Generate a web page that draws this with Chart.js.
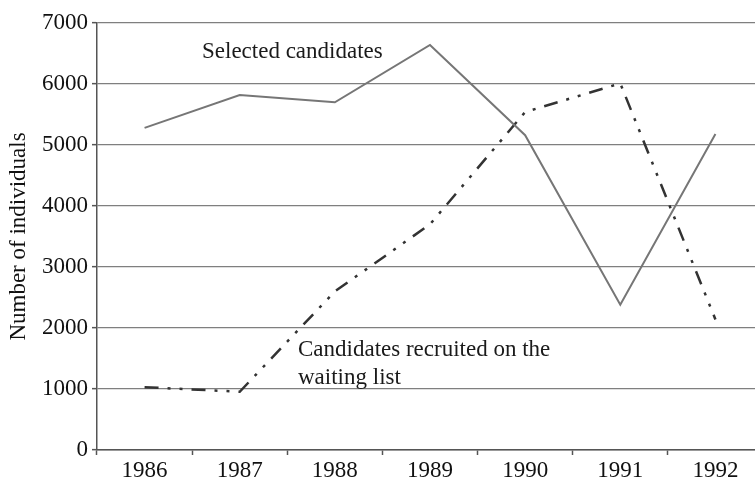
<!DOCTYPE html>
<html>
<head>
<meta charset="utf-8">
<script src="https://cdn.jsdelivr.net/npm/chart.js@4/dist/chart.umd.min.js"></script>
<style>
  html, body { margin: 0; padding: 0; background: #fff; overflow: hidden; }
  #wrap { width: 755px; height: 478px; overflow: hidden; }
  #box { width: 763px; height: 478px; }
</style>
</head>
<body>
<div id="wrap"><div id="box"><canvas id="chart"></canvas></div></div>
<script>
const years = ['1986', '1987', '1988', '1989', '1990', '1991', '1992'];
const selectedCandidates = [5280, 5820, 5700, 6640, 5160, 2380, 5180];
const waitingList = [1030, 955, 2600, 3700, 5540, 6010, 2140];
const yTicks = [0, 1000, 2000, 3000, 4000, 5000, 6000, 7000];

const serif = "'Liberation Serif', 'Times New Roman', serif";
const axisColor = '#555555';

// text labels placed next to the lines
const lineLabels = {
    id: 'lineLabels',
    afterDatasetsDraw(chart) {
        const ctx = chart.ctx;
        ctx.save();
        ctx.font = '23px ' + serif;
        ctx.fillStyle = '#1a1a1a';
        ctx.textBaseline = 'alphabetic';
        ctx.textAlign = 'left';
        ctx.fillText('Selected candidates', 202, 58);
        ctx.fillText('Candidates recruited on the', 298, 356);
        ctx.fillText('waiting list', 298, 384);
        ctx.restore();
    }
};

new Chart(document.getElementById('chart').getContext('2d'), {
    type: 'line',
    data: {
        labels: years,
        datasets: [{
            label: 'Selected candidates',
            data: selectedCandidates,
            borderColor: '#767676',
            borderWidth: 2,
            pointRadius: 0,
            tension: 0,
            fill: false
        }, {
            label: 'Candidates recruited on the waiting list',
            data: waitingList,
            borderColor: '#333333',
            borderWidth: 2.5,
            borderDash: [14, 9, 3, 9, 3, 9],
            borderCapStyle: 'butt',
            pointRadius: 0,
            tension: 0,
            fill: false
        }]
    },
    options: {
        responsive: true,
        maintainAspectRatio: false,
        animation: false,
        layout: {
            padding: { top: 23, left: 0, right: 0, bottom: 0 }
        },
        plugins: {
            legend: { display: false },
            tooltip: { enabled: false }
        },
        scales: {
            x: {
                offset: true,
                grid: {
                    offset: true,
                    drawOnChartArea: false,
                    drawTicks: true,
                    tickLength: 5,
                    tickColor: axisColor,
                    tickWidth: 1.5
                },
                border: { color: axisColor, width: 1.5 },
                ticks: {
                    color: '#111',
                    font: { family: serif, size: 23 },
                    padding: 2,
                    maxRotation: 0
                },
                afterFit(scale) { scale.height = 28; }
            },
            y: {
                min: 0,
                max: 7000,
                afterBuildTicks(scale) {
                    scale.ticks = yTicks.map(v => ({ value: v }));
                },
                grid: {
                    color: '#7f7f7f',
                    lineWidth: 1.3,
                    tickLength: 5,
                    tickColor: axisColor,
                    tickWidth: 1.5
                },
                border: { color: axisColor, width: 1.5 },
                ticks: {
                    color: '#111',
                    font: { family: serif, size: 23 },
                    padding: 4,
                    callback: v => String(v)
                },
                title: {
                    display: true,
                    text: 'Number of individuals',
                    color: '#111',
                    font: { family: serif, size: 23 },
                    padding: { top: 5, bottom: 0 }
                },
                afterFit(scale) { scale.width = 97; }
            }
        }
    },
    plugins: [lineLabels]
});
</script>
</body>
</html>
